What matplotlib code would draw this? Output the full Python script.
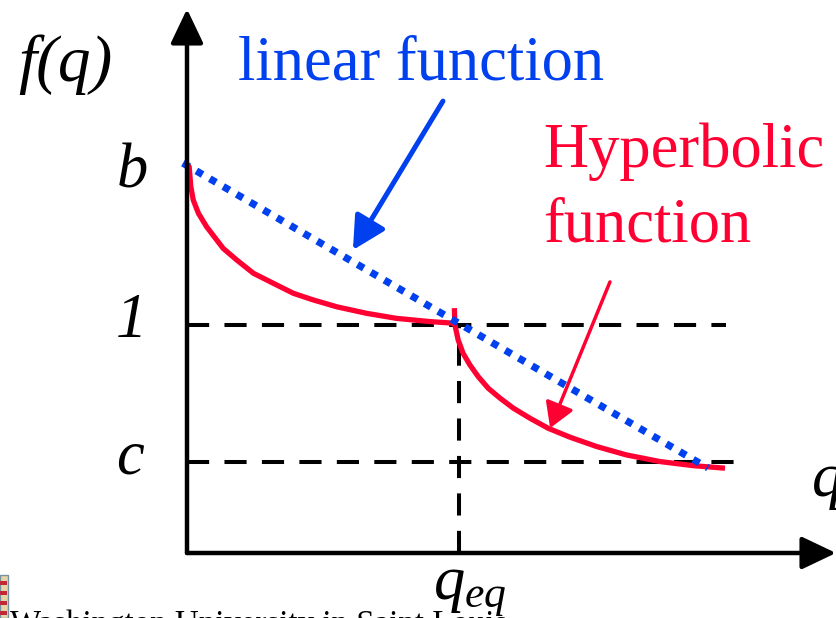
import matplotlib
matplotlib.use("Agg")
import matplotlib.pyplot as plt
from matplotlib.patches import FancyArrowPatch, Rectangle

# figure size in pixels (dpi 100)
W, H = 837, 618

plt.rcParams['font.family'] = ['Liberation Serif', 'DejaVu Serif']
plt.rcParams['mathtext.fontset'] = 'custom'
plt.rcParams['mathtext.it'] = 'Liberation Serif:italic'
plt.rcParams['mathtext.rm'] = 'Liberation Serif'

BLUE = '#0040ee'
RED = '#ff0033'

# levels on the f(q) axis
b_val = 1.70
one_val = 1.0
c_val = 0.40
q_eq = 1.0
q_end_one = 1.98   # right end of the dashed line at f = 1
q_end_c = 2.06     # right end of the dashed line at f = c

# hyperbolic function, part left of q_eq
hyp1_q = [0.004, 0.008, 0.014, 0.023, 0.042, 0.072, 0.133, 0.183, 0.244,
          0.317, 0.391, 0.464, 0.550, 0.661, 0.771, 0.893, 0.979]
hyp1_f = [1.700, 1.694, 1.607, 1.548, 1.490, 1.431, 1.336, 1.285, 1.227,
          1.183, 1.139, 1.110, 1.080, 1.051, 1.029, 1.015, 1.008]
# hyperbolic function, part right of q_eq
hyp2_q = [0.983, 0.985, 0.997, 1.015, 1.040, 1.071, 1.108, 1.151, 1.200,
          1.261, 1.328, 1.408, 1.506, 1.616, 1.739, 1.862, 1.978]
hyp2_f = [1.074, 1.000, 0.934, 0.876, 0.825, 0.773, 0.722, 0.679, 0.635,
          0.591, 0.547, 0.508, 0.467, 0.430, 0.401, 0.383, 0.372]
# linear function
lin_q = [-0.015, 1.915]
lin_f = [1.71, 0.373]

fig = plt.figure(figsize=(W / 100, H / 100), dpi=100)
ax = fig.add_axes([0, 0, 1, 1])
ax.set_xlim(-187 / 272, (W - 187) / 272)
ax.set_ylim(-(H - 553) / 228, 553 / 228)
ax.axis('off')


def fpos(x, y):  # pixel position (from top left) -> figure fraction
    return x / W, 1 - y / H


# axes with arrow heads
for start, end in [((0, 0), (0, 553 / 228 - 9 / 228)),
                   ((0, 0), ((W - 187) / 272 - 1 / 272, 0))]:
    ax.add_patch(FancyArrowPatch(start, end, arrowstyle='-|>,head_length=21,head_width=10',
                                 mutation_scale=1, lw=3.2, color='black',
                                 shrinkA=0, shrinkB=0, zorder=5))

# dashed reference lines
dash = dict(color='black', lw=2.9, dashes=(5.5, 3.8), zorder=2)
ax.plot([0, q_end_one], [one_val, one_val], **dash)
ax.plot([0, q_end_c], [c_val, c_val], **dash)
ax.plot([q_eq, q_eq], [0, one_val], **dash)

# curves
red_line = dict(color=RED, lw=3.8, solid_capstyle='butt', solid_joinstyle='round', zorder=3)
ax.plot(hyp1_q, hyp1_f, **red_line)
ax.plot(hyp2_q, hyp2_f, **red_line)
ax.plot(lin_q, lin_f, color=BLUE, lw=5.2, dashes=(1, 1.15), zorder=4)

# pointer arrows
ax.add_patch(FancyArrowPatch((0.941, 1.982), (0.610, 1.329),
                             arrowstyle='-|>,head_length=20,head_width=10.5',
                             mutation_scale=1, lw=3.6, color=BLUE,
                             shrinkA=0, shrinkB=0, zorder=6))
ax.add_patch(FancyArrowPatch((1.555, 1.189), (1.335, 0.548),
                             arrowstyle='-|>,head_length=15,head_width=9',
                             mutation_scale=1, lw=2.5, color=RED,
                             shrinkA=0, shrinkB=0, zorder=6))

# labels
fs = 45
fig.text(*fpos(65, 81), 'f(q)', fontsize=47, style='italic', ha='center', va='baseline')
fig.text(*fpos(132, 187), 'b', fontsize=fs, style='italic', ha='center', va='baseline')
fig.text(*fpos(131, 337), '1', fontsize=fs, style='italic', ha='center', va='baseline')
fig.text(*fpos(130, 473), 'c', fontsize=fs, style='italic', ha='center', va='baseline')
fig.text(*fpos(812, 496), 'q', fontsize=fs, style='italic', ha='left', va='baseline')
fig.text(*fpos(433, 598), r'$q_{eq}$', fontsize=fs, ha='left', va='baseline')

fig.text(*fpos(238, 80), 'linear function', fontsize=fs, color=BLUE, ha='left', va='baseline')
fig.text(*fpos(543, 167), 'Hyperbolic', fontsize=fs, color=RED, ha='left', va='baseline')
fig.text(*fpos(543, 242), 'function', fontsize=fs, color=RED, ha='left', va='baseline')

# footer, cut off by the bottom edge
fig.text(*fpos(10, 633), 'Washington University in Saint Louis', fontsize=23.7,
         ha='left', va='baseline')
x0, y0 = fpos(0, 618)
fig.patches.append(Rectangle((x0, y0), 8 / W, 43 / H, transform=fig.transFigure,
                             facecolor='#e6d6a6', edgecolor='#7890a0', lw=1))
for k in range(4):
    fig.patches.append(Rectangle(fpos(0, 585 + 10 * k), 7 / W, 4 / H,
                                 transform=fig.transFigure, facecolor='#c02838',
                                 edgecolor='none'))

fig.savefig('out.png', dpi=100)
